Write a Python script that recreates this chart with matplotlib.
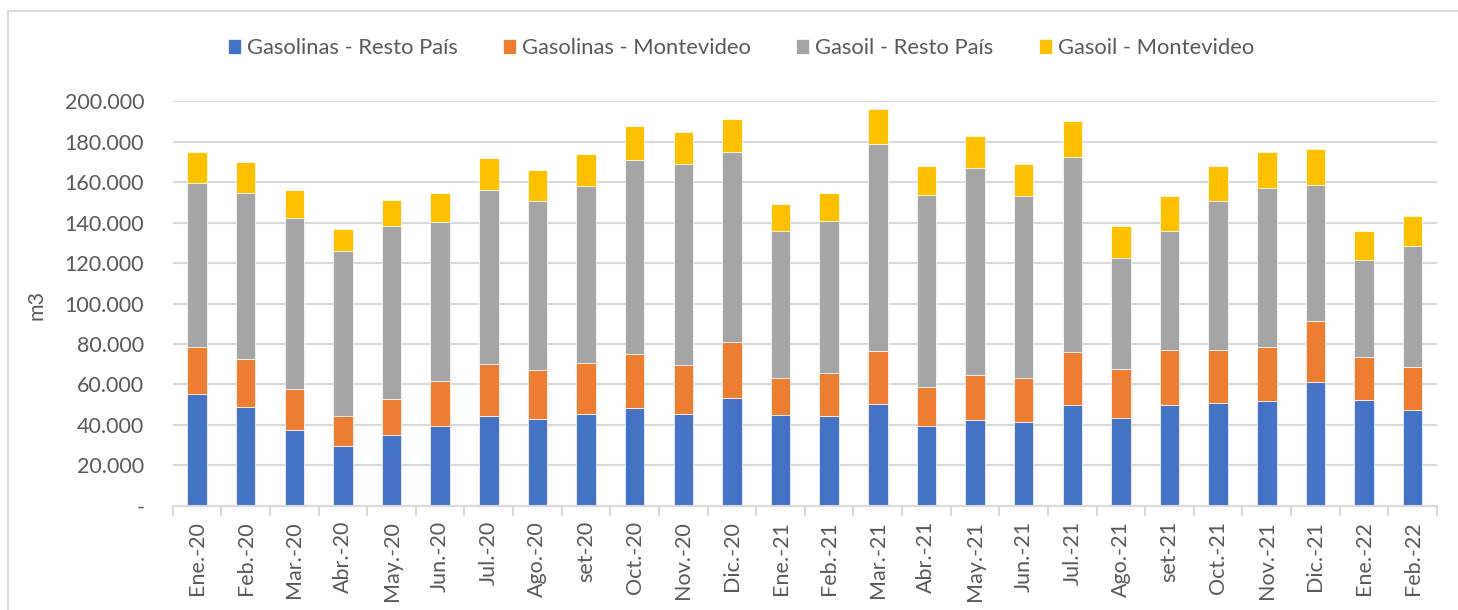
import matplotlib
matplotlib.use("Agg")
import matplotlib.pyplot as plt
from matplotlib.lines import Line2D
import numpy as np

categories = ["Ene.-20", "Feb.-20", "Mar.-20", "Abr.-20", "May.-20", "Jun.-20",
              "Jul.-20", "Ago.-20", "set-20", "Oct.-20", "Nov.-20", "Dic.-20",
              "Ene.-21", "Feb.-21", "Mar.-21", "Abr.-21", "May.-21", "Jun.-21",
              "Jul.-21", "Ago.-21", "set-21", "Oct.-21", "Nov.-21", "Dic.-21",
              "Ene.-22", "Feb.-22"]

gasolinas_resto = [55100, 48800, 37400, 29500, 34800, 39300, 44500, 43000, 45500, 48500,
                   45300, 53400, 44700, 44500, 50300, 39600, 42500, 41200, 49600, 43500,
                   49900, 50600, 51900, 61200, 52300, 47500]
gasolinas_mvd = [23200, 23900, 20100, 14900, 18100, 22200, 25400, 24000, 25100, 26700,
                 24400, 27400, 18600, 21000, 26200, 19200, 22000, 21800, 26600, 23900,
                 26900, 26200, 26700, 30000, 21100, 20900]
gasoil_resto = [81400, 81900, 84900, 81600, 85600, 78800, 86400, 83800, 87600, 95800,
                99400, 94300, 72500, 75400, 102500, 95000, 102300, 90100, 96200, 54900,
                58900, 73700, 78700, 67200, 48200, 60200]
gasoil_mvd = [15300, 15400, 13600, 10800, 12700, 14500, 15800, 15200, 15700, 16600,
              15800, 16300, 13400, 13700, 17000, 14300, 16000, 16000, 17700, 15800,
              17600, 17300, 17500, 17800, 14200, 14700]

series_names = ["Gasolinas - Resto País", "Gasolinas - Montevideo",
                "Gasoil - Resto País", "Gasoil - Montevideo"]
y_ticks = [0, 20000, 40000, 60000, 80000, 100000, 120000, 140000, 160000, 180000, 200000]
y_tick_labels = ["-", "20.000", "40.000", "60.000", "80.000", "100.000",
                 "120.000", "140.000", "160.000", "180.000", "200.000"]
y_label = "m3"

colors = ["#4472C4", "#ED7D31", "#A5A5A5", "#FFC000"]
text_color = "#595959"
grid_color = "#D9D9D9"
FS = 15.5

plt.rcParams['font.family'] = ['Lato', 'DejaVu Sans']

W, H = 1458, 610
fig = plt.figure(figsize=(W / 100, H / 100), dpi=100)
x0, x1, y0, y1 = 172.7, 1437, 101.3, 505.7
ax = fig.add_axes([x0 / W, 1 - y1 / H, (x1 - x0) / W, (y1 - y0) / H])

x = np.arange(len(categories))
bottom = np.zeros(len(categories))
for vals, name, col in zip([gasolinas_resto, gasolinas_mvd, gasoil_resto, gasoil_mvd],
                           series_names, colors):
    vals = np.array(vals, dtype=float)
    ax.bar(x, vals, width=0.4, bottom=bottom, color=col, label=name,
           edgecolor="white", linewidth=0.5, zorder=3)
    bottom += vals

ax.set_xlim(-0.5, len(categories) - 0.5)
ax.set_ylim(0, 200000)
ax.set_yticks(y_ticks)
ax.set_yticklabels(y_tick_labels)
ax.set_xticks(x)
ax.set_xticklabels(categories, rotation=90)
ax.set_xticks(np.arange(-0.5, len(categories)), minor=True)

ax.tick_params(axis="y", length=0, pad=20.5, labelsize=FS, labelcolor=text_color)
ax.tick_params(axis="x", which="major", length=0, pad=11, labelsize=FS, labelcolor=text_color)
ax.tick_params(axis="x", which="minor", length=7, width=1.5, color=grid_color, direction="out")

ax.yaxis.grid(True, color=grid_color, linewidth=1.5)
ax.set_axisbelow(True)
for s in ["top", "right", "left"]:
    ax.spines[s].set_visible(False)
ax.spines["bottom"].set_color(grid_color)
ax.spines["bottom"].set_linewidth(1.5)
ax.spines["bottom"].set_zorder(4)

fig.text(36 / W, 1 - 305 / H, y_label, rotation=90, ha="center", va="center",
         fontsize=FS, color=text_color)

handles, labels = ax.get_legend_handles_labels()
leg = fig.legend(handles, labels, loc="center", bbox_to_anchor=(741 / W, 1 - 48 / H),
                 ncol=4, frameon=False, fontsize=15.8, handlelength=0.6,
                 handleheight=0.66, handletextpad=0.28, columnspacing=2.05,
                 borderaxespad=0, borderpad=0)
for t in leg.get_texts():
    t.set_color(text_color)

# outer chart border
fig.add_artist(Line2D([8 / W, 1], [1 - 11 / H, 1 - 11 / H], color=grid_color,
                      linewidth=1.5, transform=fig.transFigure))
fig.add_artist(Line2D([8 / W, 8 / W], [0, 1 - 11 / H], color=grid_color,
                      linewidth=1.5, transform=fig.transFigure))

fig.savefig("out.png", dpi=100, facecolor="white")
